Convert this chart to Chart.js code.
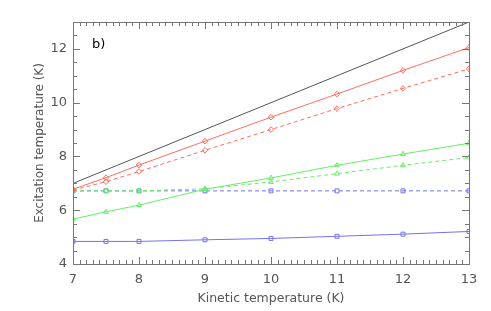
<!DOCTYPE html>
<html>
<head>
<meta charset="utf-8">
<script src="https://cdn.jsdelivr.net/npm/chart.js@4"></script>
<style>
  html, body { margin: 0; padding: 0; background: #fff; }
  #wrap { width: 491px; height: 311px; }
</style>
</head>
<body>
<div id="wrap"><canvas id="myChart"></canvas></div>
<script>
const tkin = [7, 7.5, 8, 9, 10, 11, 12, 13];
const redSolid   = [6.78, 7.21, 7.68, 8.57, 9.46, 10.32, 11.2, 12.05];
const redDash    = [6.75, 7.06, 7.44, 8.23, 9.0, 9.78, 10.53, 11.26];
const greenSolid = [5.67, 5.94, 6.19, 6.78, 7.2, 7.67, 8.09, 8.49];
const greenDash  = [6.72, 6.72, 6.72, 6.8, 7.05, 7.36, 7.67, 7.96];
const blueDash   = [6.72, 6.72, 6.72, 6.72, 6.72, 6.72, 6.72, 6.72];
const blueSolid  = [4.84, 4.84, 4.84, 4.9, 4.95, 5.03, 5.11, 5.21];
const xTicks = [7, 8, 9, 10, 11, 12, 13];
const yTicks = [4, 6, 8, 10, 12];

const pts = (ys) => tkin.map((x, i) => ({ x: x, y: ys[i] }));

const RED = '#ff6e60', GREEN = '#66ee66', BLUE = '#7373f0', GRAY = '#777';

function series(ys, color, dashed, marker) {
  return {
    data: pts(ys),
    borderColor: color,
    backgroundColor: 'rgba(0,0,0,0)',
    borderWidth: 1,
    borderDash: dashed ? [4, 3] : [],
    pointStyle: marker,
    pointRadius: 2.8,
    pointBorderColor: color,
    pointBorderWidth: 1,
    tension: 0
  };
}

// inward ticks and frame, IDL style
const frame = {
  id: 'frame',
  afterDraw(chart) {
    const { ctx, chartArea: a, scales } = chart;
    const xs = scales.x, ys = scales.y;
    ctx.save();
    ctx.setLineDash([]);
    ctx.strokeStyle = GRAY;
    ctx.lineWidth = 1;
    ctx.strokeRect(a.left + 0.5, a.top + 0.5, a.right - a.left, a.bottom - a.top);
    for (let v = 70; v <= 130; v++) {
      const px = Math.round(xs.getPixelForValue(v / 10)) + 0.5;
      const len = v % 10 === 0 ? 7 : 4;
      ctx.beginPath();
      ctx.moveTo(px, a.bottom); ctx.lineTo(px, a.bottom - len);
      ctx.moveTo(px, a.top); ctx.lineTo(px, a.top + len);
      ctx.stroke();
    }
    for (let v = 8; v <= 26; v++) {
      const py = Math.round(ys.getPixelForValue(v / 2)) + 0.5;
      const len = v % 4 === 0 ? 7 : 4;
      ctx.beginPath();
      ctx.moveTo(a.left, py); ctx.lineTo(a.left + len, py);
      ctx.moveTo(a.right, py); ctx.lineTo(a.right - len, py);
      ctx.stroke();
    }
    ctx.fillStyle = '#000';
    ctx.font = '13px "DejaVu Sans"';
    ctx.textBaseline = 'middle';
    ctx.fillText('b)', a.left + 19, a.top + 23);
    ctx.restore();
  }
};

new Chart(document.getElementById('myChart'), {
  type: 'line',
  data: {
    datasets: [
      { data: [{ x: 7, y: 7 }, { x: 13, y: 13 }], borderColor: '#555', borderWidth: 1, pointRadius: 0 },
      series(redSolid, RED, false, 'rectRot'),
      series(redDash, RED, true, 'rectRot'),
      series(greenSolid, GREEN, false, 'triangle'),
      series(greenDash, GREEN, true, 'triangle'),
      series(blueDash, BLUE, true, 'rect'),
      series(blueSolid, BLUE, false, 'rect')
    ]
  },
  options: {
    responsive: true,
    maintainAspectRatio: false,
    animation: false,
    layout: { padding: { top: 22, right: 22, left: 0, bottom: 0 } },
    plugins: { legend: { display: false }, tooltip: { enabled: false } },
    scales: {
      x: {
        type: 'linear', min: 7, max: 13,
        afterFit(s) { s.height = 47; },
        afterBuildTicks(s) { s.ticks = xTicks.map(v => ({ value: v })); },
        grid: { display: false, drawTicks: false },
        border: { display: false },
        ticks: { color: '#555', font: { family: 'DejaVu Sans', size: 13 }, padding: 8, maxRotation: 0 },
        title: { display: true, text: 'Kinetic temperature (K)', color: '#555',
                 font: { family: 'DejaVu Sans', size: 12.5 }, padding: { top: 0, bottom: 5 } }
      },
      y: {
        type: 'linear', min: 4, max: 13,
        afterFit(s) { s.width = 73; },
        afterBuildTicks(s) { s.ticks = yTicks.map(v => ({ value: v })); },
        grid: { display: false, drawTicks: false },
        border: { display: false },
        ticks: { color: '#555', font: { family: 'DejaVu Sans', size: 13 }, padding: 6 },
        title: { display: true, text: 'Excitation temperature (K)', color: '#555',
                 font: { family: 'DejaVu Sans', size: 12 }, padding: { top: 33, bottom: 0 } }
      }
    }
  },
  plugins: [frame]
});
</script>
</body>
</html>
